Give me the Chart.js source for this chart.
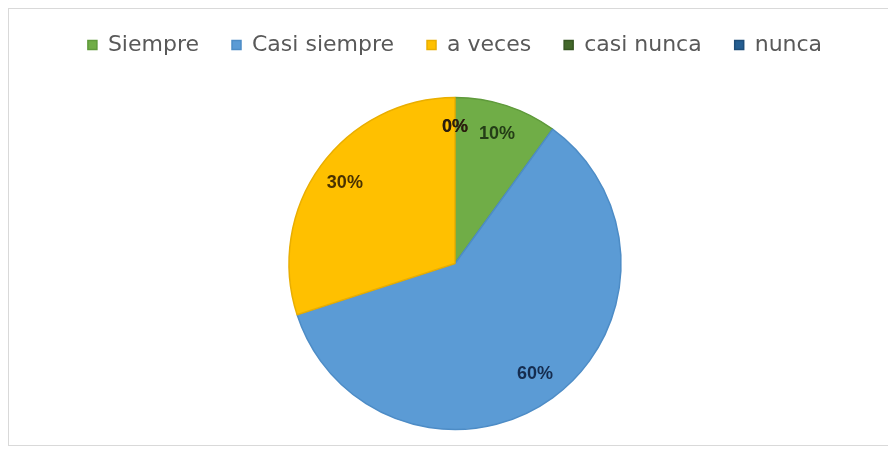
<!DOCTYPE html>
<html>
<head>
<meta charset="utf-8">
<script src="https://cdn.jsdelivr.net/npm/chart.js@4/dist/chart.umd.min.js"></script>
<style>
  html, body { margin: 0; padding: 0; background: #ffffff; }
  #wrap { position: relative; width: 888px; height: 451px; }
  #frame { position: absolute; left: 8px; top: 8px; width: 884px; height: 436px;
           border: 1px solid #d9d9d9; pointer-events: none; }
  canvas { position: absolute; left: 0; top: 0; }
</style>
</head>
<body>
<div id="wrap">
  <canvas id="c" width="888" height="451"></canvas>
  <div id="frame"></div>
</div>
<script>
// Survey answer categories and their share of responses (%)
const categories = ['Siempre', 'Casi siempre', 'a veces', 'casi nunca', 'nunca'];
const percentages = [10, 60, 30, 0, 0];

const sliceColors = ['#70AD47', '#5B9BD5', '#FFC000', '#43682B', '#255E91'];
const edgeColors  = ['#5f9a3b', '#4d8cc6', '#e9ae00', '#375623', '#1f4e79'];
const labelColors = ['#243d17', '#152c4f', '#4a3200', '#2b1d0e', '#2b1d0e'];

// Extra room under the legend before the pie starts
const legendGap = {
  id: 'legendGap',
  beforeInit(chart) {
    const fit = chart.legend.fit;
    chart.legend.fit = function () {
      fit.call(this);
      this.height += 24;
    };
  }
};

// Percentage labels placed inside each slice
const sliceLabels = {
  id: 'sliceLabels',
  afterDatasetsDraw(chart) {
    const ctx = chart.ctx;
    const meta = chart.getDatasetMeta(0);
    ctx.save();
    ctx.font = 'bold 18px "Liberation Sans", Arial, sans-serif';
    ctx.textAlign = 'center';
    ctx.textBaseline = 'middle';
    meta.data.forEach((arc, i) => {
      const p = arc.getProps(['x', 'y', 'startAngle', 'endAngle', 'outerRadius'], true);
      const mid = (p.startAngle + p.endAngle) / 2;
      const r = p.outerRadius * 0.82;
      ctx.fillStyle = labelColors[i];
      ctx.fillText(percentages[i] + '%', p.x + Math.cos(mid) * r, p.y + Math.sin(mid) * r);
    });
    ctx.restore();
  }
};

new Chart(document.getElementById('c'), {
  type: 'pie',
  data: {
    labels: categories,
    datasets: [{
      data: percentages,
      backgroundColor: sliceColors,
      borderColor: edgeColors,
      borderWidth: 1.5,
      radius: 166
    }]
  },
  options: {
    responsive: false,
    animation: false,
    layout: { padding: { top: 1, bottom: 14, left: 22, right: 0 } },
    plugins: {
      tooltip: { enabled: false },
      legend: {
        position: 'top',
        labels: {
          boxWidth: 9,
          boxHeight: 9,
          padding: 33,
          color: '#595959',
          font: { family: '"DejaVu Sans", sans-serif', size: 22 }
        }
      }
    }
  },
  plugins: [legendGap, sliceLabels]
});
</script>
</body>
</html>
